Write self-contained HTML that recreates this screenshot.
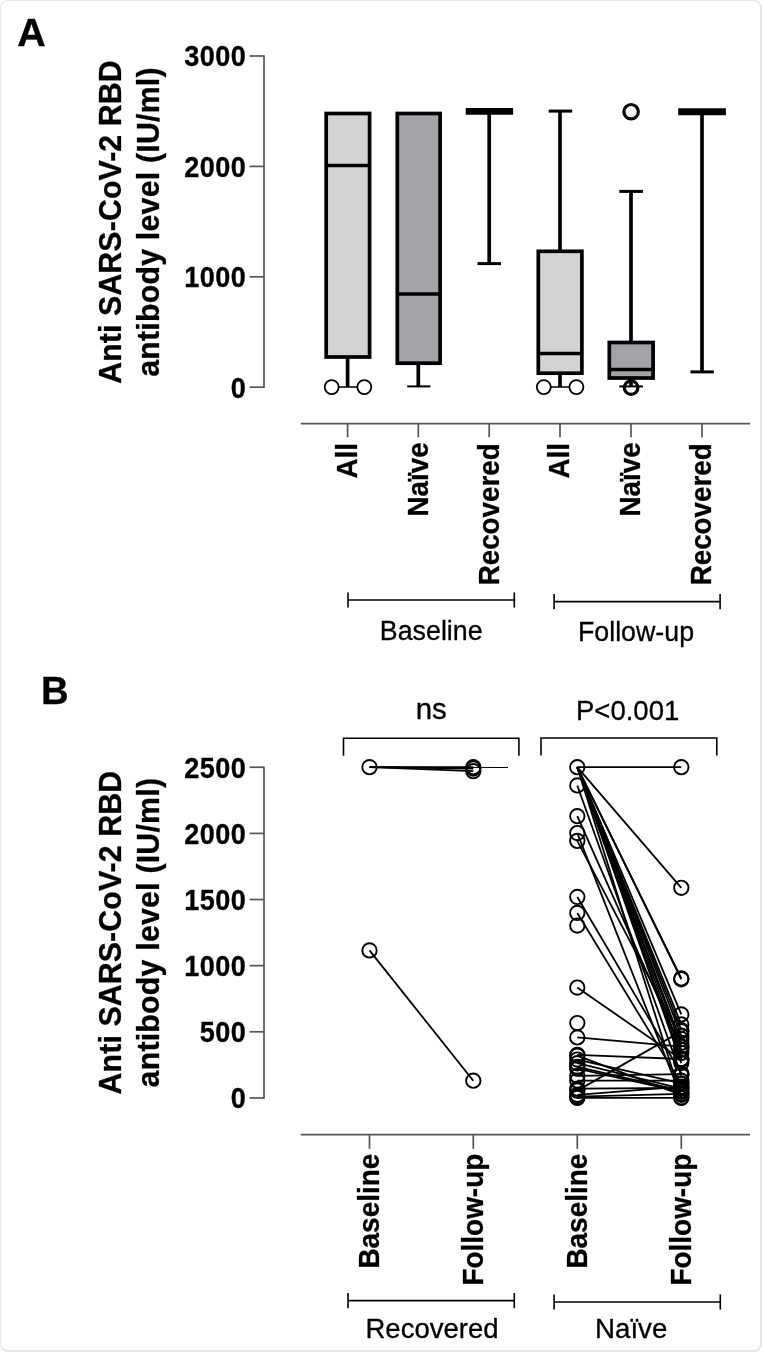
<!DOCTYPE html>
<html lang="en">
<head>
<meta charset="utf-8">
<title>Anti SARS-CoV-2 RBD antibody level</title>
<style>
html,body{margin:0;padding:0;background:#fff;}
body{width:762px;height:1352px;overflow:hidden;position:relative;}
.frame{position:absolute;left:0;top:0;width:762px;height:1352px;box-sizing:border-box;border:solid #e6e6e6;border-width:1px 2px 2px 1px;border-radius:8px;background:#fff;}
svg{position:absolute;left:0;top:0;display:block;font-family:"Liberation Sans", sans-serif;}
svg text{fill:#000;}
</style>
</head>
<body>
<div class="frame"></div>
<svg width="762" height="1352" viewBox="0 0 762 1352">
<text transform="translate(17.20 45.60) scale(1.0300 1)" font-size="38.3" text-anchor="start" font-weight="700" stroke="#000" stroke-width="0.3" stroke-linejoin="round">A</text>
<line x1="264.00" y1="55.15" x2="264.00" y2="388.05" stroke="#555" stroke-width="1.7" stroke-linecap="butt"/>
<line x1="249.60" y1="387.20" x2="264.00" y2="387.20" stroke="#555" stroke-width="1.7" stroke-linecap="butt"/>
<text transform="translate(246.30 397.50) scale(0.9400 1)" font-size="28.8" text-anchor="end" font-weight="700" letter-spacing="0.5" stroke="#000" stroke-width="0.3" stroke-linejoin="round">0</text>
<line x1="249.60" y1="276.80" x2="264.00" y2="276.80" stroke="#555" stroke-width="1.7" stroke-linecap="butt"/>
<text transform="translate(246.30 287.10) scale(0.9400 1)" font-size="28.8" text-anchor="end" font-weight="700" letter-spacing="0.5" stroke="#000" stroke-width="0.3" stroke-linejoin="round">1000</text>
<line x1="249.60" y1="166.40" x2="264.00" y2="166.40" stroke="#555" stroke-width="1.7" stroke-linecap="butt"/>
<text transform="translate(246.30 176.70) scale(0.9400 1)" font-size="28.8" text-anchor="end" font-weight="700" letter-spacing="0.5" stroke="#000" stroke-width="0.3" stroke-linejoin="round">2000</text>
<line x1="249.60" y1="56.00" x2="264.00" y2="56.00" stroke="#555" stroke-width="1.7" stroke-linecap="butt"/>
<text transform="translate(246.30 66.30) scale(0.9400 1)" font-size="28.8" text-anchor="end" font-weight="700" letter-spacing="0.5" stroke="#000" stroke-width="0.3" stroke-linejoin="round">3000</text>
<text transform="translate(121.20 222.00) rotate(-90) scale(0.9710 1)" font-size="31.2" text-anchor="middle" font-weight="700" letter-spacing="0.12" stroke="#000" stroke-width="0.3" stroke-linejoin="round">Anti SARS-CoV-2 RBD</text>
<text transform="translate(158.70 222.00) rotate(-90) scale(0.9710 1)" font-size="31.2" text-anchor="middle" font-weight="700" letter-spacing="0.23" stroke="#000" stroke-width="0.3" stroke-linejoin="round">antibody level (IU/ml)</text>
<line x1="300.80" y1="423.60" x2="750.00" y2="423.60" stroke="#555" stroke-width="1.7" stroke-linecap="butt"/>
<line x1="347.60" y1="423.60" x2="347.60" y2="437.20" stroke="#555" stroke-width="1.7" stroke-linecap="butt"/>
<text transform="translate(356.90 443.00) rotate(-90) scale(0.9670 1)" font-size="28.7" text-anchor="end" font-weight="700" stroke="#000" stroke-width="0.3" stroke-linejoin="round">All</text>
<line x1="418.30" y1="423.60" x2="418.30" y2="437.20" stroke="#555" stroke-width="1.7" stroke-linecap="butt"/>
<text transform="translate(427.70 442.40) rotate(-90) scale(0.9670 1)" font-size="28.7" text-anchor="end" font-weight="700" stroke="#000" stroke-width="0.3" stroke-linejoin="round">Naïve</text>
<line x1="489.20" y1="423.60" x2="489.20" y2="437.20" stroke="#555" stroke-width="1.7" stroke-linecap="butt"/>
<text transform="translate(498.60 443.40) rotate(-90) scale(0.9670 1)" font-size="28.7" text-anchor="end" font-weight="700" stroke="#000" stroke-width="0.3" stroke-linejoin="round">Recovered</text>
<line x1="560.00" y1="423.60" x2="560.00" y2="437.20" stroke="#555" stroke-width="1.7" stroke-linecap="butt"/>
<text transform="translate(569.30 443.00) rotate(-90) scale(0.9670 1)" font-size="28.7" text-anchor="end" font-weight="700" stroke="#000" stroke-width="0.3" stroke-linejoin="round">All</text>
<line x1="631.00" y1="423.60" x2="631.00" y2="437.20" stroke="#555" stroke-width="1.7" stroke-linecap="butt"/>
<text transform="translate(640.40 442.40) rotate(-90) scale(0.9670 1)" font-size="28.7" text-anchor="end" font-weight="700" stroke="#000" stroke-width="0.3" stroke-linejoin="round">Naïve</text>
<line x1="702.00" y1="423.60" x2="702.00" y2="437.20" stroke="#555" stroke-width="1.7" stroke-linecap="butt"/>
<text transform="translate(711.30 443.40) rotate(-90) scale(0.9670 1)" font-size="28.7" text-anchor="end" font-weight="700" stroke="#000" stroke-width="0.3" stroke-linejoin="round">Recovered</text>
<line x1="347.60" y1="356.00" x2="347.60" y2="387.00" stroke="#000" stroke-width="3.7" stroke-linecap="butt"/>
<line x1="331.70" y1="387.00" x2="364.30" y2="387.00" stroke="#000" stroke-width="1.6" stroke-linecap="butt"/>
<rect x="326.20" y="113.50" width="43.40" height="243.50" fill="#d3d3d3" stroke="#000" stroke-width="3.7"/>
<line x1="326.20" y1="165.50" x2="369.60" y2="165.50" stroke="#000" stroke-width="3.7" stroke-linecap="butt"/>
<circle cx="331.70" cy="387.10" r="7.00" fill="#fff" stroke="#000" stroke-width="1.8"/>
<circle cx="364.30" cy="387.10" r="7.00" fill="#fff" stroke="#000" stroke-width="1.8"/>
<line x1="418.30" y1="362.00" x2="418.30" y2="386.40" stroke="#000" stroke-width="3.7" stroke-linecap="butt"/>
<line x1="407.20" y1="386.40" x2="430.40" y2="386.40" stroke="#000" stroke-width="2.0" stroke-linecap="butt"/>
<rect x="397.30" y="113.50" width="42.80" height="249.70" fill="#a3a2a6" stroke="#000" stroke-width="3.7"/>
<line x1="397.30" y1="294.00" x2="440.10" y2="294.00" stroke="#000" stroke-width="3.7" stroke-linecap="butt"/>
<line x1="489.20" y1="111.40" x2="489.20" y2="263.60" stroke="#000" stroke-width="3.7" stroke-linecap="butt"/>
<line x1="465.70" y1="111.40" x2="513.10" y2="111.40" stroke="#000" stroke-width="6.8" stroke-linecap="butt"/>
<line x1="477.50" y1="263.60" x2="501.00" y2="263.60" stroke="#000" stroke-width="3.0" stroke-linecap="butt"/>
<line x1="560.00" y1="111.10" x2="560.00" y2="251.00" stroke="#000" stroke-width="3.7" stroke-linecap="butt"/>
<line x1="548.70" y1="111.10" x2="572.20" y2="111.10" stroke="#000" stroke-width="3.0" stroke-linecap="butt"/>
<line x1="560.00" y1="373.00" x2="560.00" y2="387.00" stroke="#000" stroke-width="3.7" stroke-linecap="butt"/>
<line x1="543.80" y1="387.00" x2="576.40" y2="387.00" stroke="#000" stroke-width="1.6" stroke-linecap="butt"/>
<rect x="538.30" y="251.30" width="43.60" height="121.90" fill="#d3d3d3" stroke="#000" stroke-width="3.7"/>
<line x1="538.30" y1="353.50" x2="581.90" y2="353.50" stroke="#000" stroke-width="3.7" stroke-linecap="butt"/>
<circle cx="543.80" cy="387.10" r="7.00" fill="#fff" stroke="#000" stroke-width="1.8"/>
<circle cx="576.40" cy="387.10" r="7.00" fill="#fff" stroke="#000" stroke-width="1.8"/>
<line x1="631.00" y1="191.40" x2="631.00" y2="342.00" stroke="#000" stroke-width="3.7" stroke-linecap="butt"/>
<line x1="619.30" y1="191.40" x2="642.90" y2="191.40" stroke="#000" stroke-width="3.0" stroke-linecap="butt"/>
<line x1="631.00" y1="378.00" x2="631.00" y2="386.40" stroke="#000" stroke-width="3.7" stroke-linecap="butt"/>
<line x1="619.30" y1="386.40" x2="642.90" y2="386.40" stroke="#000" stroke-width="2.0" stroke-linecap="butt"/>
<rect x="609.30" y="342.50" width="43.80" height="35.50" fill="#a3a2a6" stroke="#000" stroke-width="3.7"/>
<line x1="609.30" y1="369.50" x2="653.10" y2="369.50" stroke="#000" stroke-width="3.7" stroke-linecap="butt"/>
<circle cx="631.10" cy="111.70" r="7.20" fill="#fff" stroke="#000" stroke-width="3.2"/>
<circle cx="631.10" cy="387.60" r="6.80" fill="none" stroke="#000" stroke-width="3.2"/>
<line x1="702.00" y1="111.70" x2="702.00" y2="371.90" stroke="#000" stroke-width="3.7" stroke-linecap="butt"/>
<line x1="678.20" y1="111.70" x2="725.90" y2="111.70" stroke="#000" stroke-width="7.0" stroke-linecap="butt"/>
<line x1="690.50" y1="371.90" x2="713.80" y2="371.90" stroke="#000" stroke-width="3.0" stroke-linecap="butt"/>
<line x1="348.00" y1="600.00" x2="514.30" y2="600.00" stroke="#000" stroke-width="1.6" stroke-linecap="butt"/>
<line x1="348.00" y1="592.40" x2="348.00" y2="607.60" stroke="#000" stroke-width="1.6" stroke-linecap="butt"/>
<line x1="514.30" y1="592.40" x2="514.30" y2="607.60" stroke="#000" stroke-width="1.6" stroke-linecap="butt"/>
<line x1="554.10" y1="601.60" x2="720.10" y2="601.60" stroke="#000" stroke-width="1.6" stroke-linecap="butt"/>
<line x1="554.10" y1="594.00" x2="554.10" y2="609.20" stroke="#000" stroke-width="1.6" stroke-linecap="butt"/>
<line x1="720.10" y1="594.00" x2="720.10" y2="609.20" stroke="#000" stroke-width="1.6" stroke-linecap="butt"/>
<text transform="translate(431.20 640.00) scale(0.9930 1)" font-size="27.0" text-anchor="middle" stroke="#000" stroke-width="0.3" stroke-linejoin="round">Baseline</text>
<text transform="translate(636.00 641.00) scale(0.9930 1)" font-size="27.0" text-anchor="middle" stroke="#000" stroke-width="0.3" stroke-linejoin="round">Follow-up</text>
<text transform="translate(41.00 703.70)" font-size="38.3" text-anchor="start" font-weight="700" stroke="#000" stroke-width="0.3" stroke-linejoin="round">B</text>
<line x1="264.00" y1="766.40" x2="264.00" y2="1098.80" stroke="#555" stroke-width="1.7" stroke-linecap="butt"/>
<line x1="249.60" y1="1097.95" x2="264.00" y2="1097.95" stroke="#555" stroke-width="1.7" stroke-linecap="butt"/>
<text transform="translate(246.30 1108.25) scale(0.9400 1)" font-size="28.8" text-anchor="end" font-weight="700" letter-spacing="0.5" stroke="#000" stroke-width="0.3" stroke-linejoin="round">0</text>
<line x1="249.60" y1="1031.81" x2="264.00" y2="1031.81" stroke="#555" stroke-width="1.7" stroke-linecap="butt"/>
<text transform="translate(246.30 1042.11) scale(0.9400 1)" font-size="28.8" text-anchor="end" font-weight="700" letter-spacing="0.5" stroke="#000" stroke-width="0.3" stroke-linejoin="round">500</text>
<line x1="249.60" y1="965.67" x2="264.00" y2="965.67" stroke="#555" stroke-width="1.7" stroke-linecap="butt"/>
<text transform="translate(246.30 975.97) scale(0.9400 1)" font-size="28.8" text-anchor="end" font-weight="700" letter-spacing="0.5" stroke="#000" stroke-width="0.3" stroke-linejoin="round">1000</text>
<line x1="249.60" y1="899.53" x2="264.00" y2="899.53" stroke="#555" stroke-width="1.7" stroke-linecap="butt"/>
<text transform="translate(246.30 909.83) scale(0.9400 1)" font-size="28.8" text-anchor="end" font-weight="700" letter-spacing="0.5" stroke="#000" stroke-width="0.3" stroke-linejoin="round">1500</text>
<line x1="249.60" y1="833.39" x2="264.00" y2="833.39" stroke="#555" stroke-width="1.7" stroke-linecap="butt"/>
<text transform="translate(246.30 843.69) scale(0.9400 1)" font-size="28.8" text-anchor="end" font-weight="700" letter-spacing="0.5" stroke="#000" stroke-width="0.3" stroke-linejoin="round">2000</text>
<line x1="249.60" y1="767.25" x2="264.00" y2="767.25" stroke="#555" stroke-width="1.7" stroke-linecap="butt"/>
<text transform="translate(246.30 777.55) scale(0.9400 1)" font-size="28.8" text-anchor="end" font-weight="700" letter-spacing="0.5" stroke="#000" stroke-width="0.3" stroke-linejoin="round">2500</text>
<text transform="translate(121.20 932.60) rotate(-90) scale(0.9710 1)" font-size="31.2" text-anchor="middle" font-weight="700" letter-spacing="0.12" stroke="#000" stroke-width="0.3" stroke-linejoin="round">Anti SARS-CoV-2 RBD</text>
<text transform="translate(158.70 932.60) rotate(-90) scale(0.9710 1)" font-size="31.2" text-anchor="middle" font-weight="700" letter-spacing="0.23" stroke="#000" stroke-width="0.3" stroke-linejoin="round">antibody level (IU/ml)</text>
<line x1="300.80" y1="1134.60" x2="750.00" y2="1134.60" stroke="#555" stroke-width="1.7" stroke-linecap="butt"/>
<line x1="369.50" y1="1134.60" x2="369.50" y2="1148.80" stroke="#555" stroke-width="1.7" stroke-linecap="butt"/>
<text transform="translate(379.30 1153.70) rotate(-90) scale(0.9770 1)" font-size="28.6" text-anchor="end" font-weight="700" stroke="#000" stroke-width="0.3" stroke-linejoin="round">Baseline</text>
<line x1="473.30" y1="1134.60" x2="473.30" y2="1148.80" stroke="#555" stroke-width="1.7" stroke-linecap="butt"/>
<text transform="translate(483.10 1153.70) rotate(-90) scale(0.9770 1)" font-size="28.6" text-anchor="end" font-weight="700" stroke="#000" stroke-width="0.3" stroke-linejoin="round">Follow-up</text>
<line x1="577.30" y1="1134.60" x2="577.30" y2="1148.80" stroke="#555" stroke-width="1.7" stroke-linecap="butt"/>
<text transform="translate(587.10 1153.70) rotate(-90) scale(0.9770 1)" font-size="28.6" text-anchor="end" font-weight="700" stroke="#000" stroke-width="0.3" stroke-linejoin="round">Baseline</text>
<line x1="681.30" y1="1134.60" x2="681.30" y2="1148.80" stroke="#555" stroke-width="1.7" stroke-linecap="butt"/>
<text transform="translate(691.10 1153.70) rotate(-90) scale(0.9770 1)" font-size="28.6" text-anchor="end" font-weight="700" stroke="#000" stroke-width="0.3" stroke-linejoin="round">Follow-up</text>
<line x1="348.00" y1="1300.60" x2="514.30" y2="1300.60" stroke="#000" stroke-width="1.6" stroke-linecap="butt"/>
<line x1="348.00" y1="1293.00" x2="348.00" y2="1308.20" stroke="#000" stroke-width="1.6" stroke-linecap="butt"/>
<line x1="514.30" y1="1293.00" x2="514.30" y2="1308.20" stroke="#000" stroke-width="1.6" stroke-linecap="butt"/>
<line x1="554.10" y1="1302.00" x2="720.30" y2="1302.00" stroke="#000" stroke-width="1.6" stroke-linecap="butt"/>
<line x1="554.10" y1="1294.40" x2="554.10" y2="1309.60" stroke="#000" stroke-width="1.6" stroke-linecap="butt"/>
<line x1="720.30" y1="1294.40" x2="720.30" y2="1309.60" stroke="#000" stroke-width="1.6" stroke-linecap="butt"/>
<text transform="translate(432.00 1337.80) scale(1.0190 1)" font-size="27.0" text-anchor="middle" stroke="#000" stroke-width="0.3" stroke-linejoin="round">Recovered</text>
<text transform="translate(631.20 1337.80) scale(1.0250 1)" font-size="27.0" text-anchor="middle" stroke="#000" stroke-width="0.3" stroke-linejoin="round">Naïve</text>
<polyline points="343.50,755.80 343.50,738.20 518.90,738.20 518.90,755.80" fill="none" stroke="#000" stroke-width="1.6"/>
<polyline points="541.00,755.50 541.00,738.00 716.80,738.00 716.80,755.50" fill="none" stroke="#000" stroke-width="1.6"/>
<text transform="translate(431.20 719.30) scale(1.0150 1)" font-size="29.0" text-anchor="middle" stroke="#000" stroke-width="0.3" stroke-linejoin="round">ns</text>
<text transform="translate(627.60 719.50) scale(0.9830 1)" font-size="28.0" text-anchor="middle" stroke="#000" stroke-width="0.3" stroke-linejoin="round">P&lt;0.001</text>
<line x1="369.50" y1="767.20" x2="473.30" y2="767.20" stroke="#000" stroke-width="1.8" stroke-linecap="butt"/>
<line x1="369.50" y1="767.20" x2="473.30" y2="771.17" stroke="#000" stroke-width="1.8" stroke-linecap="butt"/>
<line x1="369.50" y1="767.20" x2="473.30" y2="768.52" stroke="#000" stroke-width="1.8" stroke-linecap="butt"/>
<line x1="369.50" y1="950.41" x2="473.30" y2="1080.70" stroke="#000" stroke-width="1.8" stroke-linecap="butt"/>
<line x1="369.50" y1="767.20" x2="508.00" y2="767.50" stroke="#000" stroke-width="1.0" stroke-linecap="butt"/>
<circle cx="369.50" cy="950.41" r="7.20" fill="none" stroke="#000" stroke-width="1.9"/>
<circle cx="369.50" cy="767.20" r="7.20" fill="none" stroke="#000" stroke-width="1.9"/>
<circle cx="473.30" cy="1080.70" r="7.20" fill="none" stroke="#000" stroke-width="1.9"/>
<circle cx="473.30" cy="771.17" r="7.20" fill="none" stroke="#000" stroke-width="1.9"/>
<circle cx="473.30" cy="768.52" r="7.20" fill="none" stroke="#000" stroke-width="1.9"/>
<circle cx="473.30" cy="767.20" r="7.20" fill="none" stroke="#000" stroke-width="1.9"/>
<line x1="577.30" y1="767.20" x2="681.30" y2="767.20" stroke="#000" stroke-width="1.8" stroke-linecap="butt"/>
<line x1="577.30" y1="767.20" x2="681.30" y2="887.84" stroke="#000" stroke-width="1.8" stroke-linecap="butt"/>
<line x1="577.30" y1="767.20" x2="681.30" y2="978.45" stroke="#000" stroke-width="1.8" stroke-linecap="butt"/>
<line x1="577.30" y1="767.20" x2="681.30" y2="979.24" stroke="#000" stroke-width="1.8" stroke-linecap="butt"/>
<line x1="577.30" y1="767.20" x2="681.30" y2="1014.43" stroke="#000" stroke-width="1.8" stroke-linecap="butt"/>
<line x1="577.30" y1="767.20" x2="681.30" y2="1024.48" stroke="#000" stroke-width="1.8" stroke-linecap="butt"/>
<line x1="577.30" y1="767.20" x2="681.30" y2="1030.04" stroke="#000" stroke-width="1.8" stroke-linecap="butt"/>
<line x1="577.30" y1="767.20" x2="681.30" y2="1042.87" stroke="#000" stroke-width="1.8" stroke-linecap="butt"/>
<line x1="577.30" y1="767.20" x2="681.30" y2="1046.44" stroke="#000" stroke-width="1.8" stroke-linecap="butt"/>
<line x1="577.30" y1="767.20" x2="681.30" y2="1059.41" stroke="#000" stroke-width="1.8" stroke-linecap="butt"/>
<line x1="577.30" y1="767.20" x2="681.30" y2="1063.11" stroke="#000" stroke-width="1.8" stroke-linecap="butt"/>
<line x1="577.30" y1="767.20" x2="681.30" y2="1035.73" stroke="#000" stroke-width="1.8" stroke-linecap="butt"/>
<line x1="577.30" y1="767.20" x2="681.30" y2="1052.92" stroke="#000" stroke-width="1.8" stroke-linecap="butt"/>
<line x1="577.30" y1="767.20" x2="681.30" y2="1097.90" stroke="#000" stroke-width="1.8" stroke-linecap="butt"/>
<line x1="577.30" y1="785.45" x2="681.30" y2="1075.41" stroke="#000" stroke-width="1.8" stroke-linecap="butt"/>
<line x1="577.30" y1="816.14" x2="681.30" y2="1049.75" stroke="#000" stroke-width="1.8" stroke-linecap="butt"/>
<line x1="577.30" y1="833.08" x2="681.30" y2="1097.24" stroke="#000" stroke-width="1.8" stroke-linecap="butt"/>
<line x1="577.30" y1="840.88" x2="681.30" y2="1039.04" stroke="#000" stroke-width="1.8" stroke-linecap="butt"/>
<line x1="577.30" y1="896.97" x2="681.30" y2="1073.43" stroke="#000" stroke-width="1.8" stroke-linecap="butt"/>
<line x1="577.30" y1="912.97" x2="681.30" y2="1083.88" stroke="#000" stroke-width="1.8" stroke-linecap="butt"/>
<line x1="577.30" y1="987.58" x2="681.30" y2="1059.54" stroke="#000" stroke-width="1.8" stroke-linecap="butt"/>
<line x1="577.30" y1="1037.45" x2="681.30" y2="1046.71" stroke="#000" stroke-width="1.8" stroke-linecap="butt"/>
<line x1="577.30" y1="1054.78" x2="681.30" y2="1059.01" stroke="#000" stroke-width="1.8" stroke-linecap="butt"/>
<line x1="577.30" y1="1055.70" x2="681.30" y2="1094.86" stroke="#000" stroke-width="1.8" stroke-linecap="butt"/>
<line x1="577.30" y1="1059.54" x2="681.30" y2="1083.35" stroke="#000" stroke-width="1.8" stroke-linecap="butt"/>
<line x1="577.30" y1="1063.24" x2="681.30" y2="1088.64" stroke="#000" stroke-width="1.8" stroke-linecap="butt"/>
<line x1="577.30" y1="1066.81" x2="681.30" y2="1090.62" stroke="#000" stroke-width="1.8" stroke-linecap="butt"/>
<line x1="577.30" y1="1068.67" x2="681.30" y2="1091.95" stroke="#000" stroke-width="1.8" stroke-linecap="butt"/>
<line x1="577.30" y1="1075.94" x2="681.30" y2="1074.09" stroke="#000" stroke-width="1.8" stroke-linecap="butt"/>
<line x1="577.30" y1="1080.70" x2="681.30" y2="1080.70" stroke="#000" stroke-width="1.8" stroke-linecap="butt"/>
<line x1="577.30" y1="1088.64" x2="681.30" y2="1087.98" stroke="#000" stroke-width="1.8" stroke-linecap="butt"/>
<line x1="577.30" y1="1090.62" x2="681.30" y2="1031.36" stroke="#000" stroke-width="1.8" stroke-linecap="butt"/>
<line x1="577.30" y1="1094.86" x2="681.30" y2="1086.66" stroke="#000" stroke-width="1.8" stroke-linecap="butt"/>
<line x1="577.30" y1="1096.58" x2="681.30" y2="1093.93" stroke="#000" stroke-width="1.8" stroke-linecap="butt"/>
<line x1="577.30" y1="1097.90" x2="681.30" y2="1097.90" stroke="#000" stroke-width="1.8" stroke-linecap="butt"/>
<circle cx="577.30" cy="1097.90" r="7.20" fill="none" stroke="#000" stroke-width="1.9"/>
<circle cx="577.30" cy="1096.58" r="7.20" fill="none" stroke="#000" stroke-width="1.9"/>
<circle cx="577.30" cy="1094.86" r="7.20" fill="none" stroke="#000" stroke-width="1.9"/>
<circle cx="577.30" cy="1090.62" r="7.20" fill="none" stroke="#000" stroke-width="1.9"/>
<circle cx="577.30" cy="1088.64" r="7.20" fill="none" stroke="#000" stroke-width="1.9"/>
<circle cx="577.30" cy="1080.70" r="7.20" fill="none" stroke="#000" stroke-width="1.9"/>
<circle cx="577.30" cy="1075.94" r="7.20" fill="none" stroke="#000" stroke-width="1.9"/>
<circle cx="577.30" cy="1068.67" r="7.20" fill="none" stroke="#000" stroke-width="1.9"/>
<circle cx="577.30" cy="1066.81" r="7.20" fill="none" stroke="#000" stroke-width="1.9"/>
<circle cx="577.30" cy="1063.24" r="7.20" fill="none" stroke="#000" stroke-width="1.9"/>
<circle cx="577.30" cy="1059.54" r="7.20" fill="none" stroke="#000" stroke-width="1.9"/>
<circle cx="577.30" cy="1055.70" r="7.20" fill="none" stroke="#000" stroke-width="1.9"/>
<circle cx="577.30" cy="1054.78" r="7.20" fill="none" stroke="#000" stroke-width="1.9"/>
<circle cx="577.30" cy="1037.45" r="7.20" fill="none" stroke="#000" stroke-width="1.9"/>
<circle cx="577.30" cy="1023.03" r="7.20" fill="none" stroke="#000" stroke-width="1.9"/>
<circle cx="577.30" cy="987.58" r="7.20" fill="none" stroke="#000" stroke-width="1.9"/>
<circle cx="577.30" cy="925.54" r="7.20" fill="none" stroke="#000" stroke-width="1.9"/>
<circle cx="577.30" cy="912.97" r="7.20" fill="none" stroke="#000" stroke-width="1.9"/>
<circle cx="577.30" cy="896.97" r="7.20" fill="none" stroke="#000" stroke-width="1.9"/>
<circle cx="577.30" cy="840.88" r="7.20" fill="none" stroke="#000" stroke-width="1.9"/>
<circle cx="577.30" cy="833.08" r="7.20" fill="none" stroke="#000" stroke-width="1.9"/>
<circle cx="577.30" cy="816.14" r="7.20" fill="none" stroke="#000" stroke-width="1.9"/>
<circle cx="577.30" cy="785.45" r="7.20" fill="none" stroke="#000" stroke-width="1.9"/>
<circle cx="577.30" cy="767.20" r="7.20" fill="none" stroke="#000" stroke-width="1.9"/>
<circle cx="681.30" cy="1097.90" r="7.20" fill="none" stroke="#000" stroke-width="1.9"/>
<circle cx="681.30" cy="1097.24" r="7.20" fill="none" stroke="#000" stroke-width="1.9"/>
<circle cx="681.30" cy="1094.86" r="7.20" fill="none" stroke="#000" stroke-width="1.9"/>
<circle cx="681.30" cy="1093.93" r="7.20" fill="none" stroke="#000" stroke-width="1.9"/>
<circle cx="681.30" cy="1091.95" r="7.20" fill="none" stroke="#000" stroke-width="1.9"/>
<circle cx="681.30" cy="1090.62" r="7.20" fill="none" stroke="#000" stroke-width="1.9"/>
<circle cx="681.30" cy="1088.64" r="7.20" fill="none" stroke="#000" stroke-width="1.9"/>
<circle cx="681.30" cy="1087.98" r="7.20" fill="none" stroke="#000" stroke-width="1.9"/>
<circle cx="681.30" cy="1086.66" r="7.20" fill="none" stroke="#000" stroke-width="1.9"/>
<circle cx="681.30" cy="1083.88" r="7.20" fill="none" stroke="#000" stroke-width="1.9"/>
<circle cx="681.30" cy="1083.35" r="7.20" fill="none" stroke="#000" stroke-width="1.9"/>
<circle cx="681.30" cy="1080.70" r="7.20" fill="none" stroke="#000" stroke-width="1.9"/>
<circle cx="681.30" cy="1075.41" r="7.20" fill="none" stroke="#000" stroke-width="1.9"/>
<circle cx="681.30" cy="1074.09" r="7.20" fill="none" stroke="#000" stroke-width="1.9"/>
<circle cx="681.30" cy="1073.43" r="7.20" fill="none" stroke="#000" stroke-width="1.9"/>
<circle cx="681.30" cy="1063.11" r="7.20" fill="none" stroke="#000" stroke-width="1.9"/>
<circle cx="681.30" cy="1059.54" r="7.20" fill="none" stroke="#000" stroke-width="1.9"/>
<circle cx="681.30" cy="1059.41" r="7.20" fill="none" stroke="#000" stroke-width="1.9"/>
<circle cx="681.30" cy="1059.01" r="7.20" fill="none" stroke="#000" stroke-width="1.9"/>
<circle cx="681.30" cy="1052.92" r="7.20" fill="none" stroke="#000" stroke-width="1.9"/>
<circle cx="681.30" cy="1049.75" r="7.20" fill="none" stroke="#000" stroke-width="1.9"/>
<circle cx="681.30" cy="1046.71" r="7.20" fill="none" stroke="#000" stroke-width="1.9"/>
<circle cx="681.30" cy="1046.44" r="7.20" fill="none" stroke="#000" stroke-width="1.9"/>
<circle cx="681.30" cy="1042.87" r="7.20" fill="none" stroke="#000" stroke-width="1.9"/>
<circle cx="681.30" cy="1039.04" r="7.20" fill="none" stroke="#000" stroke-width="1.9"/>
<circle cx="681.30" cy="1035.73" r="7.20" fill="none" stroke="#000" stroke-width="1.9"/>
<circle cx="681.30" cy="1031.36" r="7.20" fill="none" stroke="#000" stroke-width="1.9"/>
<circle cx="681.30" cy="1030.04" r="7.20" fill="none" stroke="#000" stroke-width="1.9"/>
<circle cx="681.30" cy="1024.48" r="7.20" fill="none" stroke="#000" stroke-width="1.9"/>
<circle cx="681.30" cy="1014.43" r="7.20" fill="none" stroke="#000" stroke-width="1.9"/>
<circle cx="681.30" cy="979.24" r="7.20" fill="none" stroke="#000" stroke-width="1.9"/>
<circle cx="681.30" cy="978.45" r="7.20" fill="none" stroke="#000" stroke-width="1.9"/>
<circle cx="681.30" cy="887.84" r="7.20" fill="none" stroke="#000" stroke-width="1.9"/>
<circle cx="681.30" cy="767.20" r="7.20" fill="none" stroke="#000" stroke-width="1.9"/>
</svg>
</body>
</html>
